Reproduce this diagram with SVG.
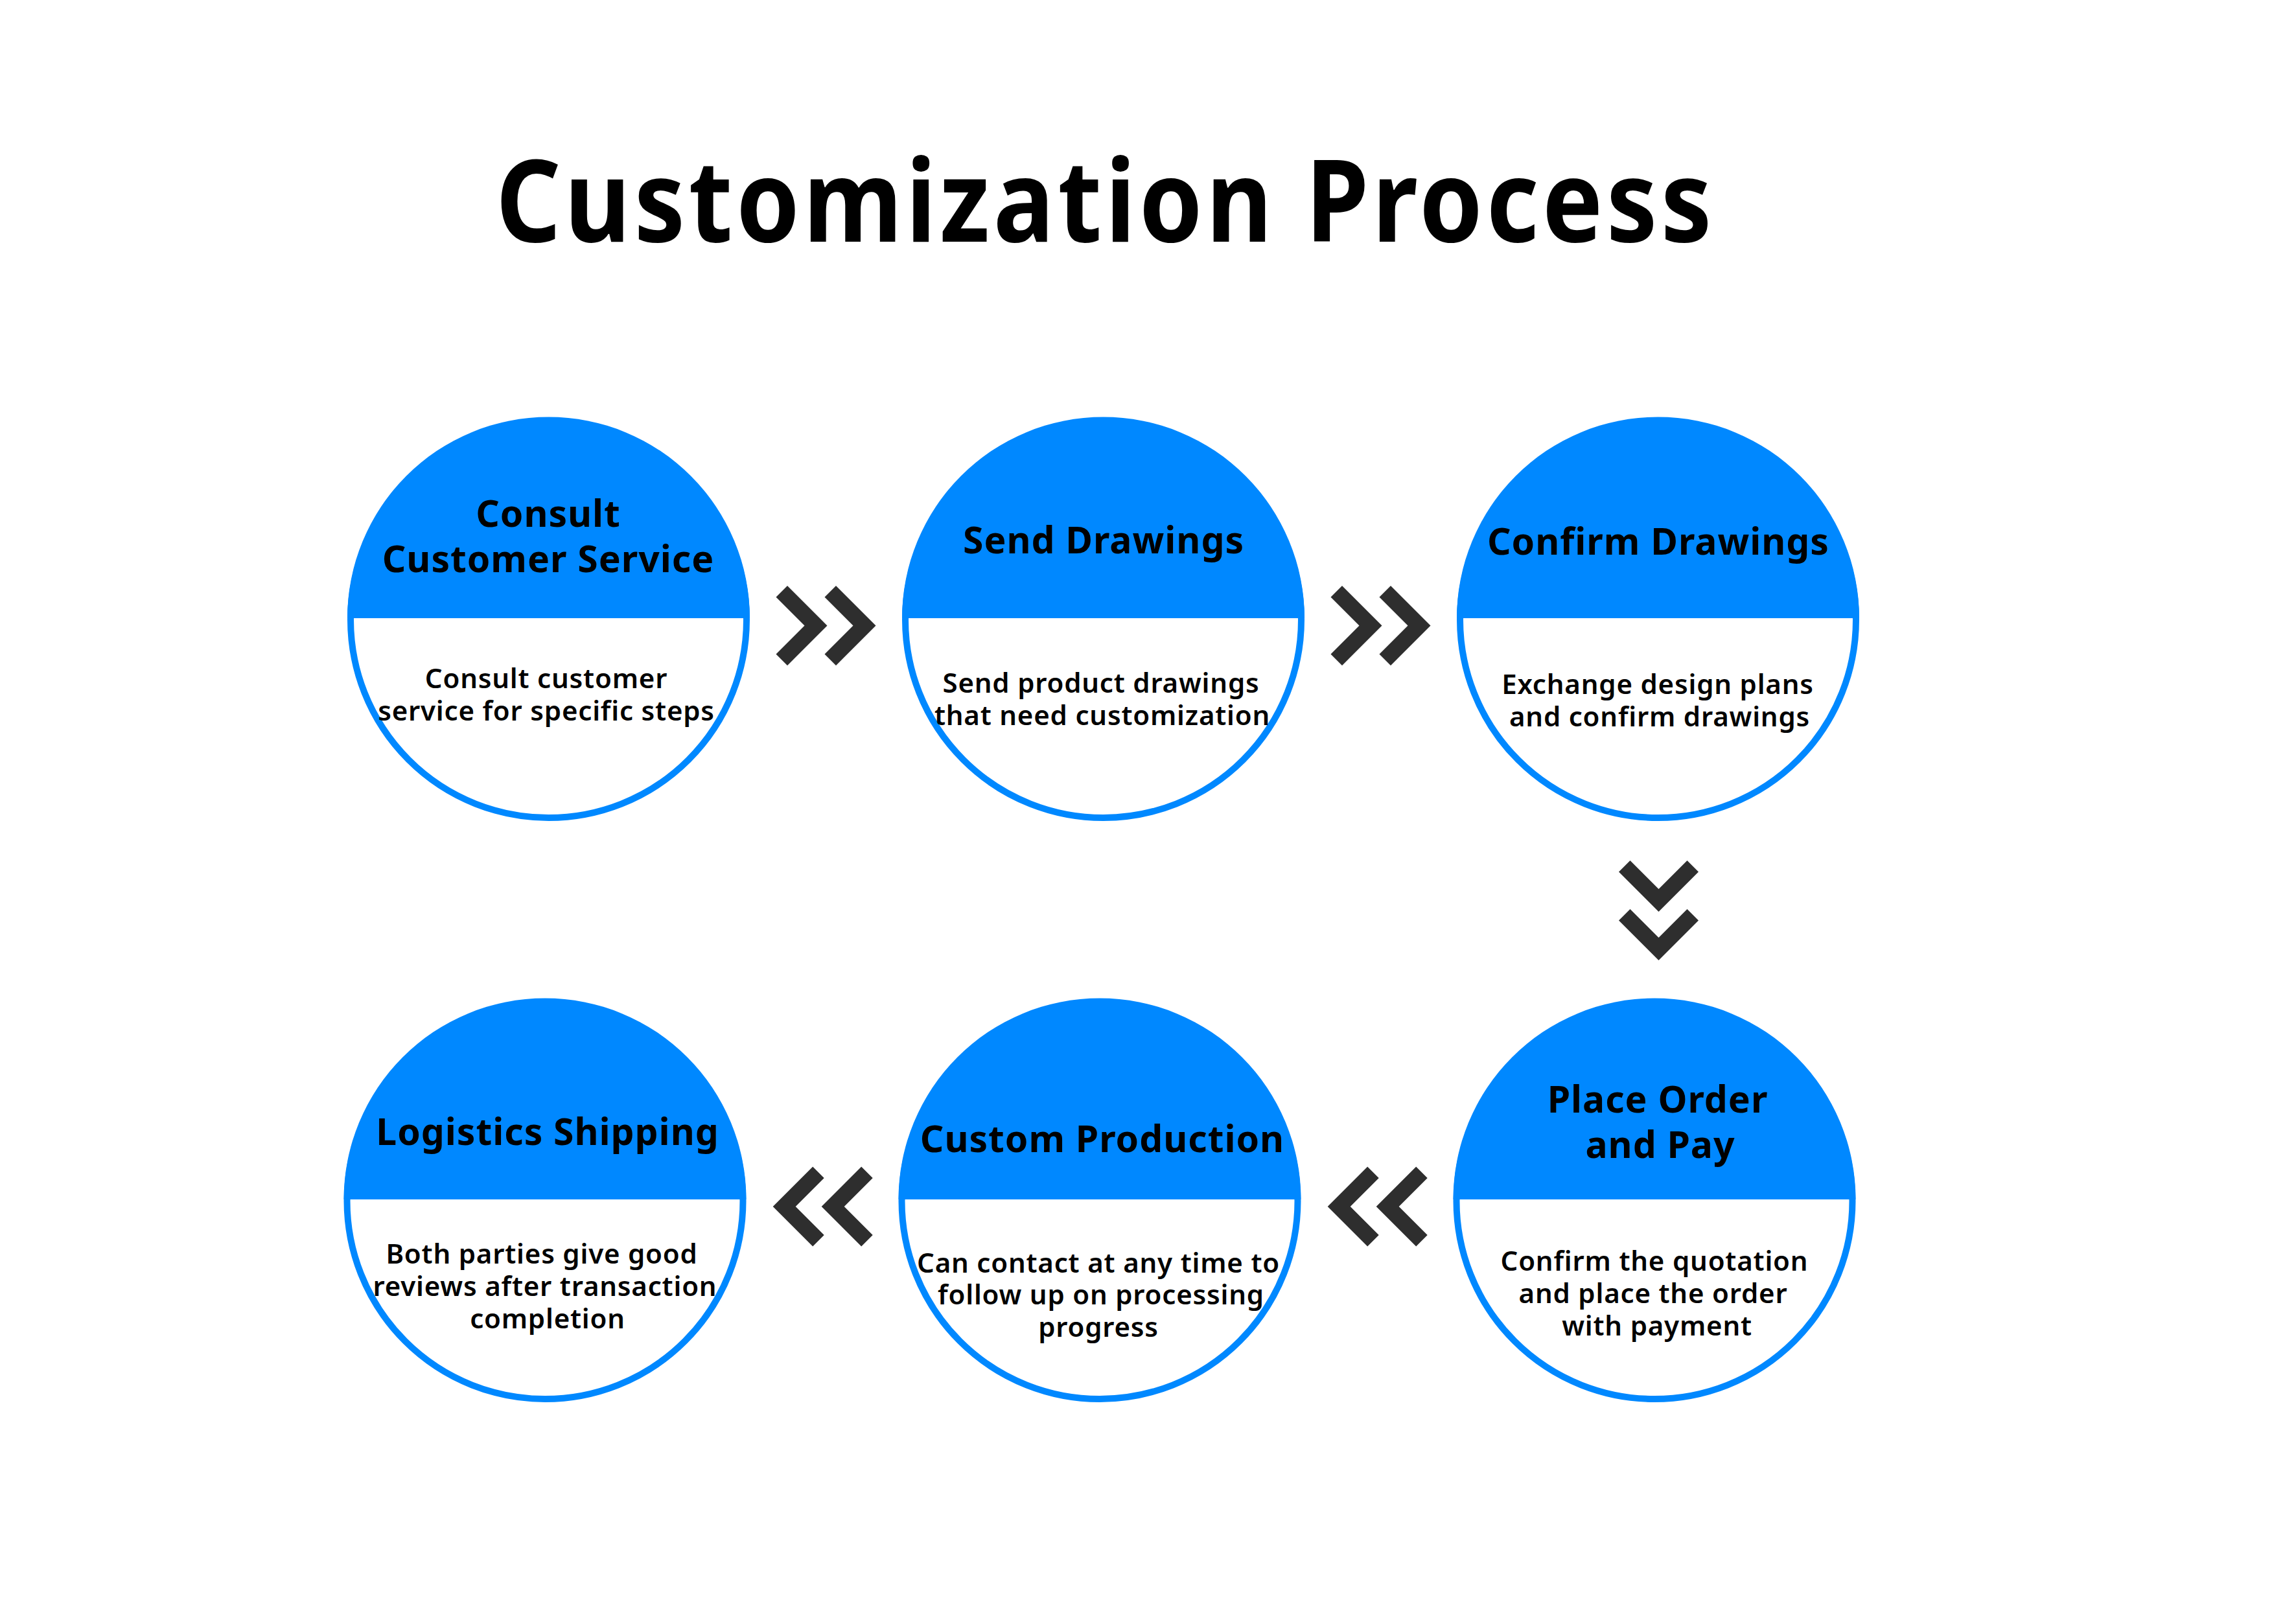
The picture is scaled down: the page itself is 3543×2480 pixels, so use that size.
<svg xmlns="http://www.w3.org/2000/svg" xmlns:xlink="http://www.w3.org/1999/xlink" width="3543" height="2480" viewBox="0 0 3543 2480">
<style>
.ring{fill:#ffffff;stroke:#0088ff;stroke-width:10}
.cap{fill:#0088ff}
.chev{fill:#2e2e2e}
.ttl{font-family:"Noto Sans","Open Sans","DejaVu Sans",sans-serif;font-weight:700;font-size:176px;fill:#000000;text-anchor:middle;letter-spacing:6px}
.head{font-family:"Noto Sans","Open Sans","DejaVu Sans",sans-serif;font-weight:700;font-size:57px;fill:#000000;text-anchor:middle;letter-spacing:1px}
.desc{font-family:"Noto Sans","Open Sans","DejaVu Sans",sans-serif;font-weight:600;font-size:42px;fill:#000000;text-anchor:middle;letter-spacing:0.8px}
</style>
<defs>
<path id="right" d="M0,17.5 L17.5,0 L79,61.5 L17.5,123 L0,105.5 L44,61.5 Z"/>
<path id="left" d="M79,17.5 L61.5,0 L0,61.5 L61.5,123 L79,105.5 L35,61.5 Z"/>
<path id="down" d="M0,17.5 L17.5,0 L61.5,44 L105.5,0 L123,17.5 L61.5,79 Z"/>
</defs>
<rect width="3543" height="2480" fill="#ffffff"/>
<text class="ttl" x="1706" y="373" textLength="1882" lengthAdjust="spacingAndGlyphs">Customization Process</text>

<g id="connectors" class="chev">
<use xlink:href="#right" href="#right" x="1197.5" y="904"/>
<use xlink:href="#right" href="#right" x="1272.5" y="904"/>
<use xlink:href="#right" href="#right" x="2053.5" y="904"/>
<use xlink:href="#right" href="#right" x="2128.5" y="904"/>
<use xlink:href="#down" href="#down" x="2498" y="1328"/>
<use xlink:href="#down" href="#down" x="2498" y="1403"/>
<use xlink:href="#left" href="#left" x="2048.7" y="1800.5"/>
<use xlink:href="#left" href="#left" x="2123.7" y="1800.5"/>
<use xlink:href="#left" href="#left" x="1192.7" y="1800.5"/>
<use xlink:href="#left" href="#left" x="1267.7" y="1800.5"/>
</g>

<g id="node1">
<circle class="ring" cx="846.5" cy="956.5" r="305.5"/>
<path class="cap" d="M536,954 A310.5,310.5 0 0 1 1157,954 Z"/>
<text class="head" x="846" y="813">Consult</text>
<text class="head" x="846" y="883">Customer Service</text>
<text class="desc" x="843" y="1062">Consult customer</text>
<text class="desc" x="843" y="1112">service for specific steps</text>
</g>

<g id="node2">
<circle class="ring" cx="1702.5" cy="956.5" r="305.5"/>
<path class="cap" d="M1392,954 A310.5,310.5 0 0 1 2013,954 Z"/>
<text class="head" x="1703" y="854">Send Drawings</text>
<text class="desc" x="1699" y="1069">Send product drawings</text>
<text class="desc" x="1701" y="1119">that need customization</text>
</g>

<g id="node3">
<circle class="ring" cx="2558.5" cy="956.5" r="305.5"/>
<path class="cap" d="M2248,954 A310.5,310.5 0 0 1 2869,954 Z"/>
<text class="head" x="2559" y="856">Confirm Drawings</text>
<text class="desc" x="2558" y="1071">Exchange design plans</text>
<text class="desc" x="2561" y="1121">and confirm drawings</text>
</g>

<g id="node4">
<circle class="ring" cx="2553" cy="1853.5" r="305.5"/>
<path class="cap" d="M2242.5,1851 A310.5,310.5 0 0 1 2863.5,1851 Z"/>
<text class="head" x="2558" y="1717">Place Order</text>
<text class="head" x="2562" y="1787">and Pay</text>
<text class="desc" x="2553" y="1961">Confirm the quotation</text>
<text class="desc" x="2551" y="2011">and place the order</text>
<text class="desc" x="2557" y="2061">with payment</text>
</g>

<g id="node5">
<circle class="ring" cx="1697" cy="1853.5" r="305.5"/>
<path class="cap" d="M1386.5,1851 A310.5,310.5 0 0 1 2007.5,1851 Z"/>
<text class="head" x="1701" y="1778">Custom Production</text>
<text class="desc" x="1695" y="1964">Can contact at any time to</text>
<text class="desc" x="1699" y="2013">follow up on processing</text>
<text class="desc" x="1695" y="2063">progress</text>
</g>

<g id="node6">
<circle class="ring" cx="841" cy="1853.5" r="305.5"/>
<path class="cap" d="M530.5,1851 A310.5,310.5 0 0 1 1151.5,1851 Z"/>
<text class="head" x="845" y="1767">Logistics Shipping</text>
<text class="desc" x="836" y="1950">Both parties give good</text>
<text class="desc" x="841" y="2000">reviews after transaction</text>
<text class="desc" x="845" y="2050">completion</text>
</g>
</svg>
